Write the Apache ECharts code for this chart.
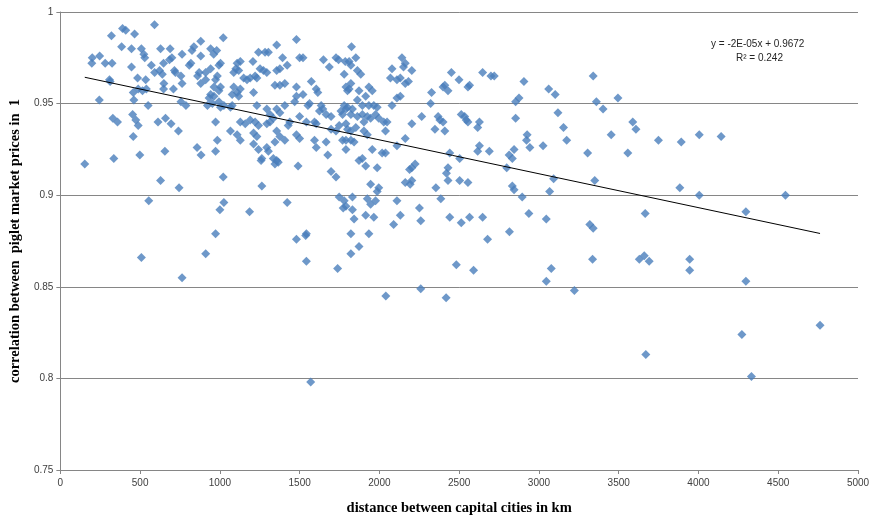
<!DOCTYPE html>
<html>
<head>
<meta charset="utf-8">
<script src="https://cdn.jsdelivr.net/npm/echarts@6/dist/echarts.min.js"></script>
<style>
  html, body { margin: 0; padding: 0; background: #ffffff; }
  #chart { width: 876px; height: 521px; }
</style>
</head>
<body>
<div id="chart"></div>
<script>
// Distance between two capital cities (km) and the correlation of their piglet market prices
const distanceKm = [
  590, 390, 410, 320, 465, 384, 446, 508, 523, 529, 628, 688, 763, 837, 825, 808, 818, 880, 880, 200,
  246, 197, 281, 324, 446, 570, 647, 684, 699, 591, 622, 639, 715, 721, 756, 870, 860, 880, 308, 312,
  484, 535, 649, 647, 763, 457, 488, 515, 539, 709, 244, 461, 550, 756, 787, 329, 358, 453, 473, 488,
  612, 659, 694, 740, 457,
  153, 335, 498, 655, 857, 882, 628, 744, 554, 508, 763, 911,
  1021, 1356, 1480, 942, 980, 961, 1004, 1108, 1128, 1207, 1242, 1283, 1304, 1393, 1356, 1376, 1422, 1500, 1521, 1649,
  1686, 1728, 1744, 1786, 911, 942, 984, 973, 994, 1087, 1118, 1100, 1149, 1170, 1190, 1221, 1232, 1252, 1273, 1294,
  1376, 1407, 1573, 1604, 1614, 1779, 1790, 1800, 911, 963, 1004, 994, 942, 932, 963, 1087, 1128, 1108, 1211, 1077,
  1118, 1345, 1480, 1521, 1480, 1469, 1562, 1552, 1635, 1645, 1624, 1666, 1697, 1759, 1769, 1790, 1800, 922, 953, 994,
  1025, 1004, 1077, 1066, 1232, 1294, 1356, 1376, 1407, 1314, 1335, 1438, 1428, 1500, 1542, 1593, 1604, 1697, 1728, 1748,
  1790, 1800, 973, 1128, 1159, 1190, 1221, 1242, 1294, 1314, 1066, 1108, 1128, 1211, 1232, 1356, 1376, 984, 1480, 1500,
  1593, 1666, 1769, 1790,
  973, 1345, 1407, 1211, 1242, 1294, 1304, 1263, 1258, 1335, 1356, 1345, 1366, 1490, 1604, 1676, 1790, 1697, 1728, 1021,
  1263, 1025, 1000, 1186, 1422, 1748, 1779, 1790, 1773, 973, 1480, 1538, 1542, 1542, 1738,
  1825, 1852, 1810, 1821, 1862, 1883, 1821, 1810, 1872, 1862, 1934, 1955, 1914, 1779, 1831, 1893, 1934, 1965, 1986, 1821,
  1862, 1893, 1924, 1903, 1945, 1976, 1996, 2027, 2048, 1852, 1821, 1903, 1924, 2038, 2079, 2131, 2110, 2141, 2162, 2151,
  2203, 2162, 2182, 2069, 2110, 2131, 2079, 2203, 2265, 2327, 2321, 2348, 2368, 2379, 2399, 2410, 2399, 2410, 2430, 2451,
  2499, 2565, 2555, 2534, 2544, 2555, 2513, 2616, 2627, 2647, 2699, 2162, 1821, 1841,
  1955, 2017, 2038, 2110, 1872, 1893, 1914, 1986, 2203, 2224, 2189, 1945, 1996, 1986, 2162, 2193, 2203, 1831, 1831, 1924,
  1945, 1976, 2110, 1841, 1914, 1965, 2131, 2089, 2251, 2259, 2354, 2385, 2430, 2420, 2430, 2503, 2555, 2441, 2503, 2627,
  2616, 2689, 2441, 2513, 2565, 2647, 2678, 1821, 1934, 1872, 1821, 2482, 2590, 2259,
  2720, 2906, 3061, 3102, 3340, 2854, 2875, 3360, 3402, 3495, 2854, 3119, 3154, 3174, 2926, 2922, 2943, 3026, 2844, 2813,
  2833, 3305, 3453, 3588, 3608, 3557, 3749,
  2798, 3092, 3350, 2833, 2844, 2895, 3067, 2937, 3046, 3666, 3319, 3340, 2815, 3336, 3629, 3660, 3691, 3077, 3046, 3222,
  3892, 4005, 4142, 3883, 4005, 4545, 4297, 3945, 3945, 4297, 4272, 4762, 4332,
  1569, 2040, 2418, 3670
];

const priceCorrelation = [
  0.993, 0.991, 0.990, 0.987, 0.988, 0.981, 0.980, 0.980, 0.977, 0.975, 0.980, 0.980, 0.977, 0.981, 0.979, 0.971, 0.972, 0.984, 0.976, 0.975,
  0.976, 0.972, 0.972, 0.972, 0.970, 0.971, 0.972, 0.974, 0.975, 0.967, 0.968, 0.966, 0.968, 0.967, 0.965, 0.967, 0.965, 0.961, 0.963, 0.962,
  0.964, 0.963, 0.961, 0.958, 0.961, 0.956, 0.958, 0.957, 0.958, 0.958, 0.952, 0.952, 0.949, 0.951, 0.949, 0.942, 0.940, 0.944, 0.941, 0.938,
  0.940, 0.942, 0.939, 0.935, 0.932,
  0.917, 0.920, 0.922, 0.924, 0.926, 0.922, 0.908, 0.904, 0.897, 0.866, 0.855, 0.868,
  0.986, 0.982, 0.985, 0.980, 0.979, 0.977, 0.972, 0.972, 0.973, 0.973, 0.978, 0.978, 0.978, 0.975, 0.968, 0.969, 0.971, 0.975, 0.975, 0.974,
  0.970, 0.975, 0.974, 0.973, 0.967, 0.969, 0.965, 0.963, 0.971, 0.967, 0.968, 0.969, 0.964, 0.963, 0.964, 0.965, 0.964, 0.969, 0.968, 0.967,
  0.960, 0.961, 0.962, 0.958, 0.956, 0.966, 0.959, 0.957, 0.963, 0.959, 0.959, 0.957, 0.955, 0.953, 0.954, 0.959, 0.958, 0.956, 0.956, 0.955,
  0.954, 0.960, 0.959, 0.955, 0.954, 0.951, 0.950, 0.949, 0.949, 0.947, 0.946, 0.944, 0.943, 0.946, 0.944, 0.947, 0.948, 0.949, 0.950, 0.951,
  0.949, 0.948, 0.949, 0.948, 0.949, 0.947, 0.947, 0.945, 0.949, 0.944, 0.942, 0.940, 0.938, 0.943, 0.940, 0.940, 0.939, 0.936, 0.935, 0.938,
  0.939, 0.936, 0.940, 0.940, 0.939, 0.941, 0.940, 0.938, 0.939, 0.940, 0.935, 0.933, 0.930, 0.934, 0.932, 0.935, 0.932, 0.930, 0.933, 0.931,
  0.930, 0.929, 0.930, 0.930,
  0.924, 0.929, 0.930, 0.928, 0.925, 0.926, 0.924, 0.920, 0.919, 0.920, 0.919, 0.917, 0.918, 0.916, 0.926, 0.922, 0.925, 0.913, 0.910, 0.910,
  0.905, 0.896, 0.892, 0.891, 0.896, 0.899, 0.897, 0.894, 0.893, 0.879, 0.876, 0.878, 0.879, 0.864, 0.860,
  0.981, 0.975, 0.973, 0.971, 0.968, 0.966, 0.961, 0.958, 0.957, 0.952, 0.959, 0.957, 0.954, 0.949, 0.947, 0.949, 0.949, 0.949, 0.948, 0.944,
  0.943, 0.944, 0.943, 0.940, 0.942, 0.944, 0.942, 0.940, 0.940, 0.937, 0.935, 0.935, 0.933, 0.935, 0.969, 0.964, 0.963, 0.975, 0.972, 0.970,
  0.968, 0.961, 0.962, 0.964, 0.953, 0.954, 0.949, 0.939, 0.943, 0.956, 0.950, 0.936, 0.943, 0.941, 0.940, 0.935, 0.959, 0.960, 0.957, 0.967,
  0.963, 0.960, 0.959, 0.943, 0.941, 0.940, 0.944, 0.937, 0.940, 0.967, 0.965, 0.931, 0.930, 0.929,
  0.925, 0.923, 0.923, 0.927, 0.919, 0.920, 0.916, 0.915, 0.915, 0.917, 0.914, 0.906, 0.904, 0.902, 0.907, 0.906, 0.908, 0.899, 0.892, 0.898,
  0.895, 0.897, 0.897, 0.887, 0.889, 0.888, 0.889, 0.884, 0.893, 0.886, 0.904, 0.898, 0.915, 0.912, 0.908, 0.908, 0.907, 0.923, 0.920, 0.927,
  0.924, 0.924, 0.888, 0.885, 0.888, 0.888, 0.876, 0.879, 0.879, 0.872, 0.868, 0.862, 0.859, 0.849,
  0.965, 0.962, 0.958, 0.955, 0.965, 0.951, 0.953, 0.951, 0.947, 0.953, 0.942, 0.945, 0.937, 0.930, 0.933, 0.930, 0.926, 0.927, 0.925, 0.922,
  0.920, 0.923, 0.933, 0.940, 0.936, 0.923, 0.930,
  0.915, 0.909, 0.908, 0.905, 0.903, 0.899, 0.902, 0.890, 0.887, 0.890, 0.884, 0.882, 0.880, 0.865, 0.865, 0.867, 0.864, 0.860, 0.853, 0.848,
  0.929, 0.933, 0.932, 0.904, 0.900, 0.900, 0.891, 0.865, 0.859, 0.853, 0.824, 0.829, 0.801,
  0.798, 0.845, 0.844, 0.813
];

// Axis scales and tick spacing
const xAxisRange = [0, 5000];
const xTickStep = 500;
const yAxisRange = [0.75, 1];
const yTickStep = 0.05;

// Linear trend line as stated in its equation label
const trendIntercept = 0.9672;
const trendSlope = -1.85e-5;
const trendLabel = 'y = -2E-05x + 0.9672';
const rSquaredLabel = 'R² = 0.242';

const xTitle = 'distance between capital cities in km';
const yTitle = 'correlation between  piglet market prices in  1';

const points = distanceKm.map((d, i) => [d, priceCorrelation[i]]);
const xMin = Math.min(...distanceKm);
const xMax = Math.max(...distanceKm);
const trendPoints = [xMin, xMax].map(x => [x, trendIntercept + trendSlope * x]);

const chart = echarts.init(document.getElementById('chart'), null, { renderer: 'canvas' });

const axisGrey = '#868686';
const labelFont = { fontFamily: 'Liberation Sans', fontSize: 10, color: '#404040' };
const titleFont = { fontFamily: 'Liberation Serif', fontWeight: 'bold', fontSize: 14.5, color: '#000000' };

chart.setOption({
  animation: false,
  backgroundColor: '#ffffff',
  grid: { left: 51, right: 18, top: 12, bottom: 49, containLabel: false },
  xAxis: {
    type: 'value',
    min: xAxisRange[0],
    max: xAxisRange[1],
    interval: xTickStep,
    name: xTitle,
    nameLocation: 'middle',
    nameGap: 31,
    nameTextStyle: titleFont,
    axisLine: { show: true, onZero: false, lineStyle: { color: axisGrey, width: 1 } },
    axisTick: { show: true, inside: false, length: 4, lineStyle: { color: axisGrey } },
    axisLabel: Object.assign({ margin: 8, formatter: v => String(v) }, labelFont),
    splitLine: { show: false }
  },
  yAxis: {
    type: 'value',
    min: yAxisRange[0],
    max: yAxisRange[1],
    interval: yTickStep,
    name: yTitle,
    nameLocation: 'middle',
    nameGap: 32,
    nameRotate: 90,
    nameTextStyle: titleFont,
    axisLine: { show: true, lineStyle: { color: axisGrey, width: 1 } },
    axisTick: { show: true, inside: false, length: 4, lineStyle: { color: axisGrey } },
    axisLabel: Object.assign({
      margin: 7,
      formatter: v => String(parseFloat(v.toFixed(2)))
    }, labelFont),
    splitLine: { show: true, lineStyle: { color: axisGrey, width: 1 } }
  },
  series: [
    {
      type: 'scatter',
      data: points,
      symbol: 'diamond',
      symbolSize: 9,
      itemStyle: { color: '#4a7ebb' },
      z: 2
    },
    {
      type: 'line',
      data: trendPoints,
      symbol: 'none',
      lineStyle: { color: '#000000', width: 1 },
      z: 3,
      silent: true
    }
  ],
  graphic: [
    {
      type: 'text',
      left: 711,
      top: 39,
      style: { text: trendLabel, font: '10px "Liberation Sans"', fill: '#262626' }
    },
    {
      type: 'text',
      left: 736,
      top: 53,
      style: { text: rSquaredLabel, font: '10px "Liberation Sans"', fill: '#262626' }
    }
  ]
});
</script>
</body>
</html>
